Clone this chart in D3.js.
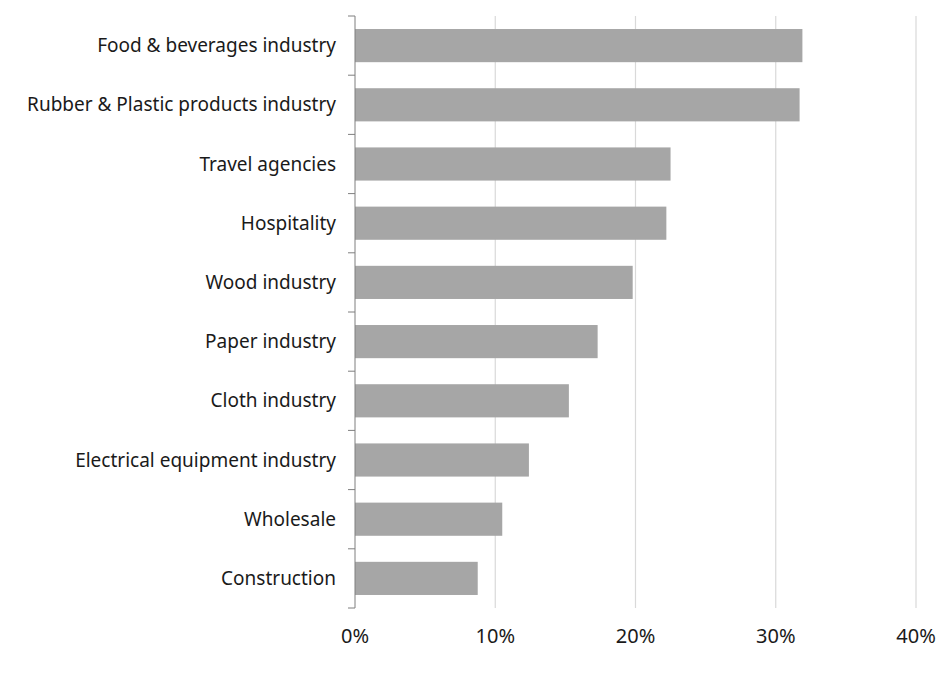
<!DOCTYPE html>
<html>
<head>
<meta charset="utf-8">
<script src="https://cdn.jsdelivr.net/npm/d3@7"></script>
<style>
  body { margin: 0; background: #fff; }
  text { font-family: 'Noto Sans', sans-serif; fill: #1a1a1a; }
</style>
</head>
<body>
<div id="chart"></div>
<script>
const categories = [
  'Food & beverages industry',
  'Rubber & Plastic products industry',
  'Travel agencies',
  'Hospitality',
  'Wood industry',
  'Paper industry',
  'Cloth industry',
  'Electrical equipment industry',
  'Wholesale',
  'Construction'
]
const values = [31.9, 31.7, 22.5, 22.2, 19.8, 17.3, 15.25, 12.4, 10.5, 8.75]
const xTicks = [0, 10, 20, 30, 40]

const WIDTH = 952
const HEIGHT = 675
const margin = { top: 16, right: 36, bottom: 67, left: 355 }

const svg = d3.select('#chart')
  .append('svg')
  .attr('width', WIDTH)
  .attr('height', HEIGHT)

const x = d3.scaleLinear()
  .domain([0, 40])
  .range([margin.left, 916])

const y = d3.scaleBand()
  .domain(categories)
  .range([margin.top, HEIGHT - margin.bottom])
  .paddingInner(0.44)
  .paddingOuter(0.22)

// gridlines
svg.append('g')
  .selectAll('line')
  .data(xTicks.slice(1))
  .join('line')
  .attr('x1', d => x(d))
  .attr('x2', d => x(d))
  .attr('y1', margin.top)
  .attr('y2', HEIGHT - margin.bottom)
  .attr('stroke', '#d9d9d9')
  .attr('stroke-width', 1.2)

// bars
svg.append('g')
  .selectAll('rect')
  .data(values)
  .join('rect')
  .attr('x', x(0))
  .attr('y', (d, i) => y(categories[i]))
  .attr('width', d => x(d) - x(0))
  .attr('height', y.bandwidth())
  .attr('fill', '#a6a6a6')

// y axis with ticks at band boundaries
const yAxis = svg.append('g')
  .attr('transform', `translate(${x(0)},0)`)
yAxis.append('line')
  .attr('y1', margin.top)
  .attr('y2', HEIGHT - margin.bottom)
  .attr('stroke', '#7f7f7f')
const bandH = (HEIGHT - margin.bottom - margin.top) / categories.length
yAxis.selectAll('.tick')
  .data(d3.range(categories.length + 1))
  .join('line')
  .attr('x1', -7)
  .attr('x2', 0)
  .attr('y1', d => margin.top + d * bandH)
  .attr('y2', d => margin.top + d * bandH)
  .attr('stroke', '#7f7f7f')

yAxis.selectAll('text')
  .data(categories)
  .join('text')
  .attr('x', -19)
  .attr('y', d => y(d) + y.bandwidth() / 2)
  .attr('dy', '0.35em')
  .attr('text-anchor', 'end')
  .attr('font-size', 19)
  .text(d => d)

// x tick labels
svg.append('g')
  .selectAll('text')
  .data(xTicks)
  .join('text')
  .attr('x', d => x(d))
  .attr('y', 636)
  .attr('dy', '0.35em')
  .attr('text-anchor', 'middle')
  .attr('font-size', 20)
  .text(d => d + '%')
</script>
</body>
</html>
